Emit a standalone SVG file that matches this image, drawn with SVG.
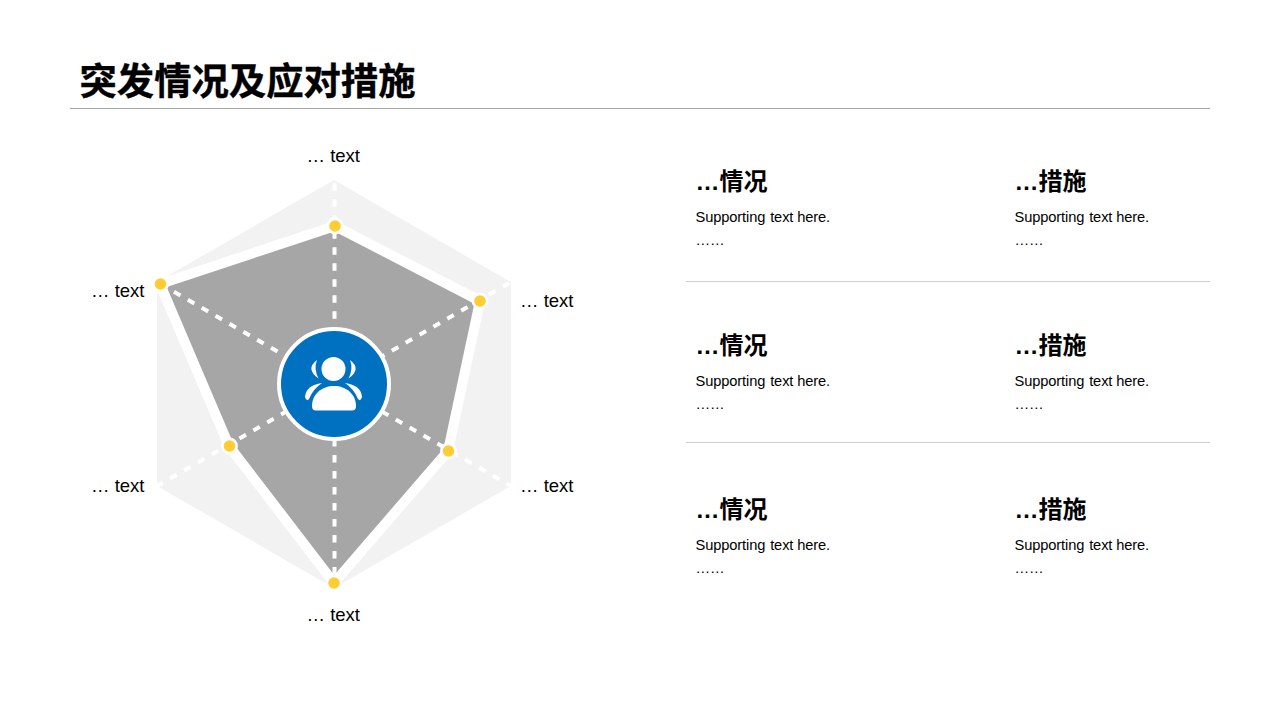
<svg xmlns="http://www.w3.org/2000/svg" width="1280" height="720" viewBox="0 0 1280 720">
<style>
text{font-family:"Liberation Sans","Noto Sans CJK SC",sans-serif;fill:#000}
.title{font-size:37.33px;font-weight:700;stroke:#000;stroke-width:.4}
.lab{font-size:18.5px}
.h{font-size:24px;font-weight:700}
.s{font-size:14.67px;letter-spacing:-.12px}
.rule{stroke:#d0d0d0;stroke-width:1}
.spoke{stroke:#fff;stroke-width:4;stroke-dasharray:7.5 8.5;fill:none}
.dot{fill:#ffcd33;stroke:#fff;stroke-width:2.6}
</style>
<rect width="1280" height="720" fill="#fff"/>
<g id="header">
<text class="title" x="79.500" y="95">突发情况及应对措施</text>
<line x1="70" y1="108.500" x2="1210" y2="108.500" stroke="#a6a6a6" stroke-width="1"/>
</g>
<g id="radar">
<polygon points="334,180 511,282 511,486 334,588 157,486 157,282" fill="#f2f2f2"/>
<polygon points="335,226 480,301 448,451 334,583 229,446 160,284" fill="#a6a6a6" stroke="#fff" stroke-width="10" stroke-linejoin="round"/>
</g>
<g id="connectors">
<line class="spoke" stroke-dashoffset="14.700" x1="334.500" y1="384" x2="334.500" y2="180"/>
<line class="spoke" stroke-dashoffset="13.250" x1="334" y1="384" x2="511" y2="282"/>
<line class="spoke" stroke-dashoffset="8.700" x1="334" y1="384" x2="511" y2="486"/>
<line class="spoke" stroke-dashoffset="9" x1="334.500" y1="384" x2="334.500" y2="588"/>
<line class="spoke" stroke-dashoffset="10.400" x1="334" y1="384" x2="157" y2="486"/>
<line class="spoke" stroke-dashoffset="14.800" x1="334" y1="384" x2="157" y2="282"/>
</g>
<g id="points">
<circle class="dot" cx="335" cy="226" r="7.100"/>
<circle class="dot" cx="480" cy="301" r="7.100"/>
<circle class="dot" cx="448.500" cy="451" r="7.100"/>
<circle class="dot" cx="334" cy="583" r="7.100"/>
<circle class="dot" cx="229.500" cy="446" r="7.100"/>
<circle class="dot" cx="160.500" cy="284" r="7.100"/>
</g>
<g id="center">
<circle cx="334" cy="384" r="55" fill="#0070c0" stroke="#fff" stroke-width="4"/>
<g fill="#fff">
<circle cx="333.500" cy="369" r="12"/>
<path d="M312,406C312,394 322,386 334,386C346,386 356,394 356,406Q356,410.500 352,410.500L316,410.500Q312,410.500 312,406Z"/>
<path d="M317,360Q305,369 318.500,378.500Q313.500,369 317,360Z"/>
<path d="M350,360Q362,369 348.500,378.500Q353.500,369 350,360Z"/>
<path d="M305,397Q306,385 322,383Q313,389 309,399Q306.500,402 305,397Z"/>
<path d="M362,397Q361,385 345,383Q354,389 358,399Q360.500,402 362,397Z"/>
</g>
</g>
<g id="labels">
<text class="lab" x="306.500" y="162">… text</text>
<text class="lab" x="520" y="307">… text</text>
<text class="lab" x="520" y="492">… text</text>
<text class="lab" x="306.500" y="621">… text</text>
<text class="lab" x="91" y="492">… text</text>
<text class="lab" x="91" y="297">… text</text>
</g>
<g id="rules">
<line class="rule" x1="686" y1="281.500" x2="1210" y2="281.500"/>
<line class="rule" x1="686" y1="442.500" x2="1210" y2="442.500"/>
</g>
<g id="row1">
<text class="h" x="695.500" y="190">…情况</text>
<text class="s" x="695.500" y="222">Supporting <tspan dx="1">text</tspan> here.</text>
<text class="s" x="695.500" y="245">……</text>
<text class="h" x="1014.500" y="190">…措施</text>
<text class="s" x="1014.500" y="222">Supporting <tspan dx="1">text</tspan> here.</text>
<text class="s" x="1014.500" y="245">……</text>
</g>
<g id="row2">
<text class="h" x="695.500" y="354">…情况</text>
<text class="s" x="695.500" y="386">Supporting <tspan dx="1">text</tspan> here.</text>
<text class="s" x="695.500" y="409">……</text>
<text class="h" x="1014.500" y="354">…措施</text>
<text class="s" x="1014.500" y="386">Supporting <tspan dx="1">text</tspan> here.</text>
<text class="s" x="1014.500" y="409">……</text>
</g>
<g id="row3">
<text class="h" x="695.500" y="518">…情况</text>
<text class="s" x="695.500" y="550">Supporting <tspan dx="1">text</tspan> here.</text>
<text class="s" x="695.500" y="573">……</text>
<text class="h" x="1014.500" y="518">…措施</text>
<text class="s" x="1014.500" y="550">Supporting <tspan dx="1">text</tspan> here.</text>
<text class="s" x="1014.500" y="573">……</text>
</g>
</svg>
